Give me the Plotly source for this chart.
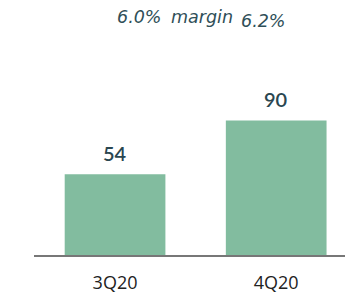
import plotly.graph_objects as go

categories = ["3Q20", "4Q20"]
values = [54, 90]
value_labels = ["54", "90"]
margins = ["6.0%", "6.2%"]
margin_word = "margin"

BAR = "#82bc9f"
LABEL = "#2a4650"

PT, PB, PL, PR = 40, 40, 34, 0
W, H = 345, 295
PW, PH = W - PL - PR, H - PT - PB


def px_x(x):
    return (x - PL) / PW


def px_y(y):
    return (H - PB - y) / PH


fig = go.Figure()
fig.add_trace(go.Bar(
    x=categories, y=values, marker_color=BAR, width=0.625,
    marker_line_width=0, hoverinfo="skip",
))

for c, v, t in zip(categories, values, value_labels):
    fig.add_annotation(x=c, y=v, text=t, showarrow=False, yanchor="bottom",
                       xanchor="center", yshift=7,
                       font=dict(family="Lato", size=20, color=LABEL, weight=600))

ann_font = dict(family="DejaVu Sans", size=17.5, color="#2f4f58", style="italic")
fig.add_annotation(xref="paper", yref="paper", x=px_x(139), y=px_y(17),
                   text=margins[0], showarrow=False, font=ann_font,
                   xanchor="center", yanchor="middle")
fig.add_annotation(xref="paper", yref="paper", x=px_x(202), y=px_y(17),
                   text=margin_word, showarrow=False, font=ann_font,
                   xanchor="center", yanchor="middle")
fig.add_annotation(xref="paper", yref="paper", x=px_x(263), y=px_y(20.5),
                   text=margins[1], showarrow=False, font=ann_font,
                   xanchor="center", yanchor="middle")

fig.update_layout(
    width=W, height=H,
    margin=dict(l=PL, r=PR, t=PT, b=PB),
    paper_bgcolor="white", plot_bgcolor="white",
    showlegend=False,
    xaxis=dict(type="category", range=[-0.503, 1.427], showgrid=False,
               showline=True, linecolor="#777777", linewidth=2,
               ticks="", ticklabelstandoff=10,
               tickfont=dict(family="Open Sans", size=18, color="#222222"),
               fixedrange=True),
    yaxis=dict(range=[0, 143.8], visible=False, fixedrange=True),
)

fig.write_html("out.html", post_script="document.body.style.margin='0';",
               config={"displayModeBar": False})
